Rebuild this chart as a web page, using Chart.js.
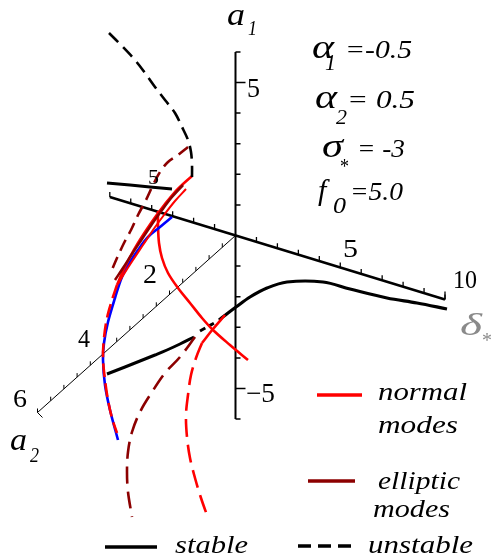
<!DOCTYPE html>
<html>
<head>
<meta charset="utf-8">
<script src="https://cdn.jsdelivr.net/npm/chart.js@4/dist/chart.umd.min.js"></script>
<style>
  html, body { margin: 0; padding: 0; background: #fff; }
</style>
</head>
<body>
<canvas id="modes" width="494" height="560"></canvas>
<script>
// axis ranges and tick values of the 3D frame (delta*, a2, a1)
const deltaRange = [-6, 10];
const a1Range = [-6, 6];
const a2Range = [0, 6];
const deltaTicks = [-6, -5, -4, -3, -2, -1, 1, 2, 3, 4, 5, 6, 7, 8, 9, 10];
const a1Ticks = [-6, -5, -4, -3, -2, -1, 1, 2, 3, 4, 5, 6];
const a2Ticks = [0.4, 0.8, 1.2, 1.6, 2, 2.4, 2.8, 3.2, 3.6, 4, 4.4, 4.8, 5.2, 5.6, 6];
const a1Labels = [5, -5];

// response curves, in drawing-plane coordinates
const unstableTop = [[109,33],[122,46],[135,60],[145,73],[155,87],[165,100],[175,113],[182,127],[188,140],[191,152],[192,165],[192,177]];
const stableUpper = [[107,183],[130,185],[150,187],[172,189]];
const normalUpper = [[192,176],[183,184],[174,193],[165,204],[156,216],[147,229],[138,243],[130,257],[123,271],[117,285]];
const normalUpper2 = [[186,189],[175,201],[164,215],[153,230],[143,245],[133,260],[124,274],[118,284]];
const normalLeftDash = [[117,285],[112,300],[107,318],[104,338],[103,358],[105,380],[108,400],[112,418],[117,433]];
const backbone = [[172,217],[160,227],[148,237],[138,250],[130,262],[122,277],[115,298],[108,322],[104,343],[103,360],[105,385],[110,410],[118,440]];
const normalMid = [[158,211],[158,225],[159,243],[162,258],[168,273],[178,288],[190,303],[202,318],[213,330],[230,345],[248,360]];
const normalLowSolid = [[225,315],[213,329],[202,343]];
const normalLowDash = [[202,343],[196,358],[191,375],[188,395],[186,415],[187,437],[190,458],[195,478],[201,498],[208,518]];
const stableLower = [[107,374],[125,367],[140,361],[155,355],[167,350],[180,344],[194,337]];
const unstableMid = [[200,331],[216,322]];
const stableRight = [[219,320],[228,313],[236,307],[250,297],[267,288],[287,282],[323,282],[350,289],[387,298],[417,303],[447,309]];
const ellipticLowDash = [[195,337],[180,357],[165,373],[152,392],[140,412],[132,432],[128,452],[127,472],[128,492],[132,517]];
const ellipticUpDash = [[188,147],[178,155],[168,162],[160,172],[153,185],[146,200],[138,215],[131,230],[124,243],[117,258],[111,272]];
const ellipticUpper = [[183,185],[172,197],[162,210],[152,224],[142,239],[132,254],[123,268],[115,280]];

const RED = '#ff0000', DARK = '#8c0000', BLUE = '#0000ff', BLACK = '#000000';

// oblique projection of (delta*, a2, a1) onto the drawing plane
const O = { x: 235.5, y: 235.5 };
function proj(d, a2, a1) {
  return { x: O.x + 20.95 * d - 33 * a2, y: O.y + 6.4 * d + 29.5 * a2 - 30.6 * a1 };
}

const pts = arr => arr.map(p => ({ x: p[0], y: p[1] }));

// short tick marks, broken apart with empty points
function tickMarks(list, at, dx, dy) {
  const out = [];
  list.forEach(v => {
    const p = at(v);
    const ddx = typeof dx === 'function' ? dx(v) : dx;
    out.push({ x: p.x, y: p.y }, { x: p.x + ddx, y: p.y + dy }, { x: p.x, y: null });
  });
  return out;
}

function curve(data, color, dash, width) {
  return {
    data: pts(data), showLine: true, borderColor: color, borderWidth: width || 2.6,
    borderDash: dash || [], pointRadius: 0, fill: false, tension: 0.35, order: 0
  };
}
function axisSet(data, width) {
  return {
    data: data, showLine: true, borderColor: BLACK, borderWidth: width, pointRadius: 0,
    fill: false, tension: 0, spanGaps: false, order: 5
  };
}

const datasets = [
  axisSet([proj(0, 0, a1Range[0]), proj(0, 0, a1Range[1])], 2),
  axisSet([proj(deltaRange[0], 0, 0), proj(deltaRange[1], 0, 0)], 2.6),
  axisSet([proj(0, a2Range[0], 0), proj(0, a2Range[1], 0)], 1),
  axisSet(tickMarks(a1Ticks, v => proj(0, 0, v), v => a1Labels.includes(v) ? 10 : 5, 0), 1.5),
  axisSet(tickMarks(deltaTicks, v => proj(v, 0, 0), 0, -5), 1.3),
  axisSet(tickMarks(a2Ticks, v => proj(0, v, 0), 0, -4), 1),
  axisSet(tickMarks([deltaRange[1]], v => proj(v, 0, 0), 0, -8), 1.3),
  axisSet(tickMarks([a2Range[1]], v => proj(0, v, 0), 5, 5), 1),
  curve(unstableTop, BLACK, [13, 7]),
  curve(ellipticUpDash, DARK, [12, 7]),
  curve(ellipticUpper, DARK),
  curve(stableUpper, BLACK, null, 3),
  curve(normalUpper, RED),
  curve(normalUpper2, RED, null, 2),
  curve(normalLeftDash, RED, [14, 6]),
  curve(backbone, BLUE, null, 2.6),
  curve(normalMid, RED),
  curve(normalLowSolid, RED),
  curve(normalLowDash, RED, [18, 8]),
  curve(ellipticLowDash, DARK, [17, 8]),
  curve(stableLower, BLACK, null, 3),
  curve(unstableMid, BLACK, [6, 4], 3),
  curve(stableRight, BLACK, null, 3.2)
];

// horizontally fitted text
function put(ctx, s, x, y, font, w, color) {
  ctx.save();
  ctx.font = font;
  ctx.fillStyle = color || BLACK;
  ctx.textBaseline = 'alphabetic';
  const m = ctx.measureText(s).width;
  ctx.translate(x, y);
  ctx.scale(w ? w / m : 1, 1);
  ctx.fillText(s, 0, 0);
  ctx.restore();
}

const IT = s => 'italic ' + s + 'px "Liberation Serif", serif';
const RM = s => s + 'px "Liberation Serif", serif';

const annotations = {
  id: 'annotations',
  afterDatasetsDraw(chart) {
    const ctx = chart.ctx;
    // axis titles
    put(ctx, 'a', 227, 25, IT(32), 18);
    put(ctx, '1', 248, 35, IT(22), 9);
    put(ctx, 'a', 10, 450, IT(31), 17);
    put(ctx, '2', 30, 462, IT(20), 9);
    put(ctx, 'δ', 460, 335, IT(32), 22, '#8a8a8a');
    put(ctx, '*', 482, 347, RM(22), 10, '#8a8a8a');

    // tick labels
    put(ctx, '5', 247, 97, RM(27), 13);
    put(ctx, '\u22125', 246, 402, RM(27), 29);
    put(ctx, '5', 343, 257, RM(25), 15);
    put(ctx, '10', 453, 288, RM(26), 24);
    put(ctx, '5', 148, 184, RM(21), 11);
    put(ctx, '2', 143, 283, RM(27), 14);
    put(ctx, '4', 78, 347, RM(26), 12);
    put(ctx, '6', 13, 407, RM(25), 14);

    // parameters
    put(ctx, 'α', 312, 58, IT(33), 22);
    put(ctx, '1', 325, 70, IT(24), 11);
    put(ctx, '=-0.5', 345, 58, IT(26), 67);
    put(ctx, 'α', 315, 108, IT(33), 22);
    put(ctx, '2', 336, 124, IT(20), 11);
    put(ctx, '= 0.5', 347, 108, IT(26), 68);
    put(ctx, 'σ', 322, 157, IT(33), 21);
    put(ctx, '*', 340, 173, RM(20), 9);
    put(ctx, '= -3', 357, 157, IT(26), 48);
    put(ctx, 'f', 318, 200, IT(30));
    put(ctx, '0', 333, 213, IT(23), 13);
    put(ctx, '=5.0', 350, 200, IT(26), 53);

    // legend
    const sample = (x1, x2, y, color, dash) => {
      ctx.save();
      ctx.strokeStyle = color; ctx.lineWidth = 3.4; ctx.setLineDash(dash || []);
      ctx.beginPath(); ctx.moveTo(x1, y); ctx.lineTo(x2, y); ctx.stroke();
      ctx.restore();
    };
    sample(317, 362, 395, RED);
    put(ctx, 'normal', 378, 400, IT(26), 89);
    put(ctx, 'modes', 378, 433, IT(26), 80);
    sample(308, 355, 481, DARK);
    put(ctx, 'elliptic', 378, 489, IT(26), 82);
    put(ctx, 'modes', 373, 517, IT(26), 77);
    sample(105, 157, 547, BLACK);
    put(ctx, 'stable', 175, 553, IT(26), 73);
    sample(298, 353, 546, BLACK, [13, 7]);
    put(ctx, 'unstable', 368, 553, IT(26), 105);
  }
};

new Chart(document.getElementById('modes'), {
  type: 'scatter',
  data: { datasets: datasets },
  options: {
    responsive: false,
    animation: false,
    layout: { padding: 0 },
    plugins: { legend: { display: false }, tooltip: { enabled: false } },
    scales: {
      x: { type: 'linear', min: 0, max: 494, display: false },
      y: { type: 'linear', min: 0, max: 560, reverse: true, display: false }
    }
  },
  plugins: [annotations]
});
</script>
</body>
</html>
